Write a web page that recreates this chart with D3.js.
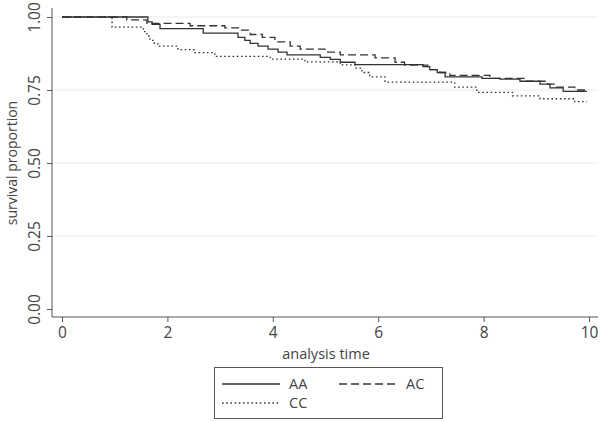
<!DOCTYPE html>
<html><head><meta charset="utf-8">
<script src="https://cdn.jsdelivr.net/npm/d3@7"></script>
<style>body{margin:0;background:#fff}svg{display:block}text{font-family:"Open Sans","Noto Sans",sans-serif;fill:#444}</style>
</head><body>
<script>
const xTicks = [0, 2, 4, 6, 8, 10];
const yTicks = [0, 0.25, 0.5, 0.75, 1];
const seriesNames = ["AA", "AC", "CC"];
const aaTime = [0, 1.63, 1.71, 1.86, 2.68, 3.34, 3.47, 3.57, 3.72, 3.91, 4.10, 4.27, 4.90, 5.09, 5.28, 5.56, 6.85, 6.98, 7.12, 7.27, 7.97, 8.31, 8.69, 9.07, 9.26, 9.51, 9.96];
const aaSurv = [1, 0.983, 0.975, 0.96, 0.945, 0.93, 0.92, 0.91, 0.90, 0.89, 0.88, 0.87, 0.862, 0.855, 0.845, 0.837, 0.83, 0.82, 0.81, 0.795, 0.79, 0.787, 0.78, 0.77, 0.757, 0.745, 0.745];
const acTime = [0, 1.23, 1.61, 2.43, 3.09, 3.38, 3.57, 3.80, 4.04, 4.33, 4.52, 4.99, 5.28, 5.94, 6.32, 6.50, 6.94, 7.17, 7.36, 8.12, 8.79, 9.17, 9.36, 9.73, 9.96];
const acSurv = [1, 0.99, 0.978, 0.97, 0.963, 0.955, 0.94, 0.93, 0.915, 0.90, 0.89, 0.88, 0.87, 0.86, 0.845, 0.835, 0.82, 0.81, 0.80, 0.79, 0.78, 0.77, 0.76, 0.75, 0.75];
const ccTime = [0, 0.95, 1.54, 1.61, 1.67, 1.75, 1.82, 2.20, 2.52, 2.90, 3.95, 4.61, 5.28, 5.56, 5.69, 5.84, 6.13, 7.45, 7.87, 8.55, 9.07, 9.73, 9.96];
const ccSurv = [1, 0.965, 0.95, 0.935, 0.92, 0.91, 0.90, 0.888, 0.878, 0.865, 0.856, 0.846, 0.836, 0.825, 0.81, 0.795, 0.777, 0.76, 0.742, 0.73, 0.72, 0.71, 0.71];
const dashes = [null, "8,4", "1.6,2.6"];

const W = 600, H = 421;
const svg = d3.select("body").append("svg").attr("width", W).attr("height", H);
const x = d3.scaleLinear().domain([0, 10]).range([62, 589]);
const y = d3.scaleLinear().domain([0, 1]).range([309, 17]);
const axisX0 = 52, axisY0 = 317, right = 598;

// gridlines
svg.append("g").selectAll("line").data(yTicks.slice(1)).join("line")
  .attr("x1", axisX0).attr("x2", right).attr("y1", d => y(d)).attr("y2", d => y(d))
  .attr("stroke", "#ebebeb").attr("stroke-width", 1);

// axes
const yAxis = svg.append("g").attr("transform", `translate(${axisX0},0)`)
  .call(d3.axisLeft(y).tickValues(yTicks).tickFormat(d3.format(".2f")).tickSize(5));
yAxis.select(".domain").attr("d", `M0,8V${axisY0}`);
yAxis.selectAll(".tick text").attr("transform", "rotate(-90)").attr("x", 0).attr("y", -12)
  .attr("dy", "0").attr("text-anchor", "middle").attr("font-size", 15.5);
const xAxis = svg.append("g").attr("transform", `translate(0,${axisY0})`)
  .call(d3.axisBottom(x).tickValues(xTicks).tickFormat(d3.format("d")).tickSize(5).tickPadding(5));
xAxis.select(".domain").attr("d", `M${axisX0},0H${right}`);
xAxis.selectAll("text").attr("font-size", 15.5);
svg.selectAll(".domain, .tick line").attr("stroke", "#555");
svg.selectAll(".tick text").attr("fill", "#444").style("font-family", '"Open Sans",sans-serif');

svg.append("text").attr("x", 326).attr("y", 359).attr("text-anchor", "middle").attr("font-size", 14.5).text("analysis time");
svg.append("text").attr("transform", `translate(12,${y(0.5)}) rotate(-90)`).attr("dy", "0.35em")
  .attr("text-anchor", "middle").attr("font-size", 14).text("survival proportion");

// curves
const series = [
  {name: seriesNames[0], t: aaTime, s: aaSurv, dash: dashes[0]},
  {name: seriesNames[1], t: acTime, s: acSurv, dash: dashes[1]},
  {name: seriesNames[2], t: ccTime, s: ccSurv, dash: dashes[2]}
];
const line = d3.line().curve(d3.curveStepAfter).x(d => x(d[0])).y(d => y(d[1]));
svg.append("g").selectAll("path").data(series).join("path")
  .attr("d", d => line(d.t.map((t, i) => [t, d.s[i]])))
  .attr("fill", "none").attr("stroke", "#333").attr("stroke-width", 1.3)
  .attr("stroke-dasharray", d => d.dash);

// legend
const lg = svg.append("g");
lg.append("rect").attr("x", 214.5).attr("y", 367.5).attr("width", 228).attr("height", 51)
  .attr("fill", "#fff").attr("stroke", "#555");
const pos = [[222, 384], [339, 384], [222, 403]];
series.forEach((s, i) => {
  const [px, py] = pos[i];
  lg.append("line").attr("x1", px).attr("x2", px + 58).attr("y1", py).attr("y2", py)
    .attr("stroke", "#333").attr("stroke-width", 1.3).attr("stroke-dasharray", s.dash);
  lg.append("text").attr("x", px + 67).attr("y", py).attr("dy", "0.35em").attr("font-size", 14.5).text(s.name);
});
</script>
</body></html>
